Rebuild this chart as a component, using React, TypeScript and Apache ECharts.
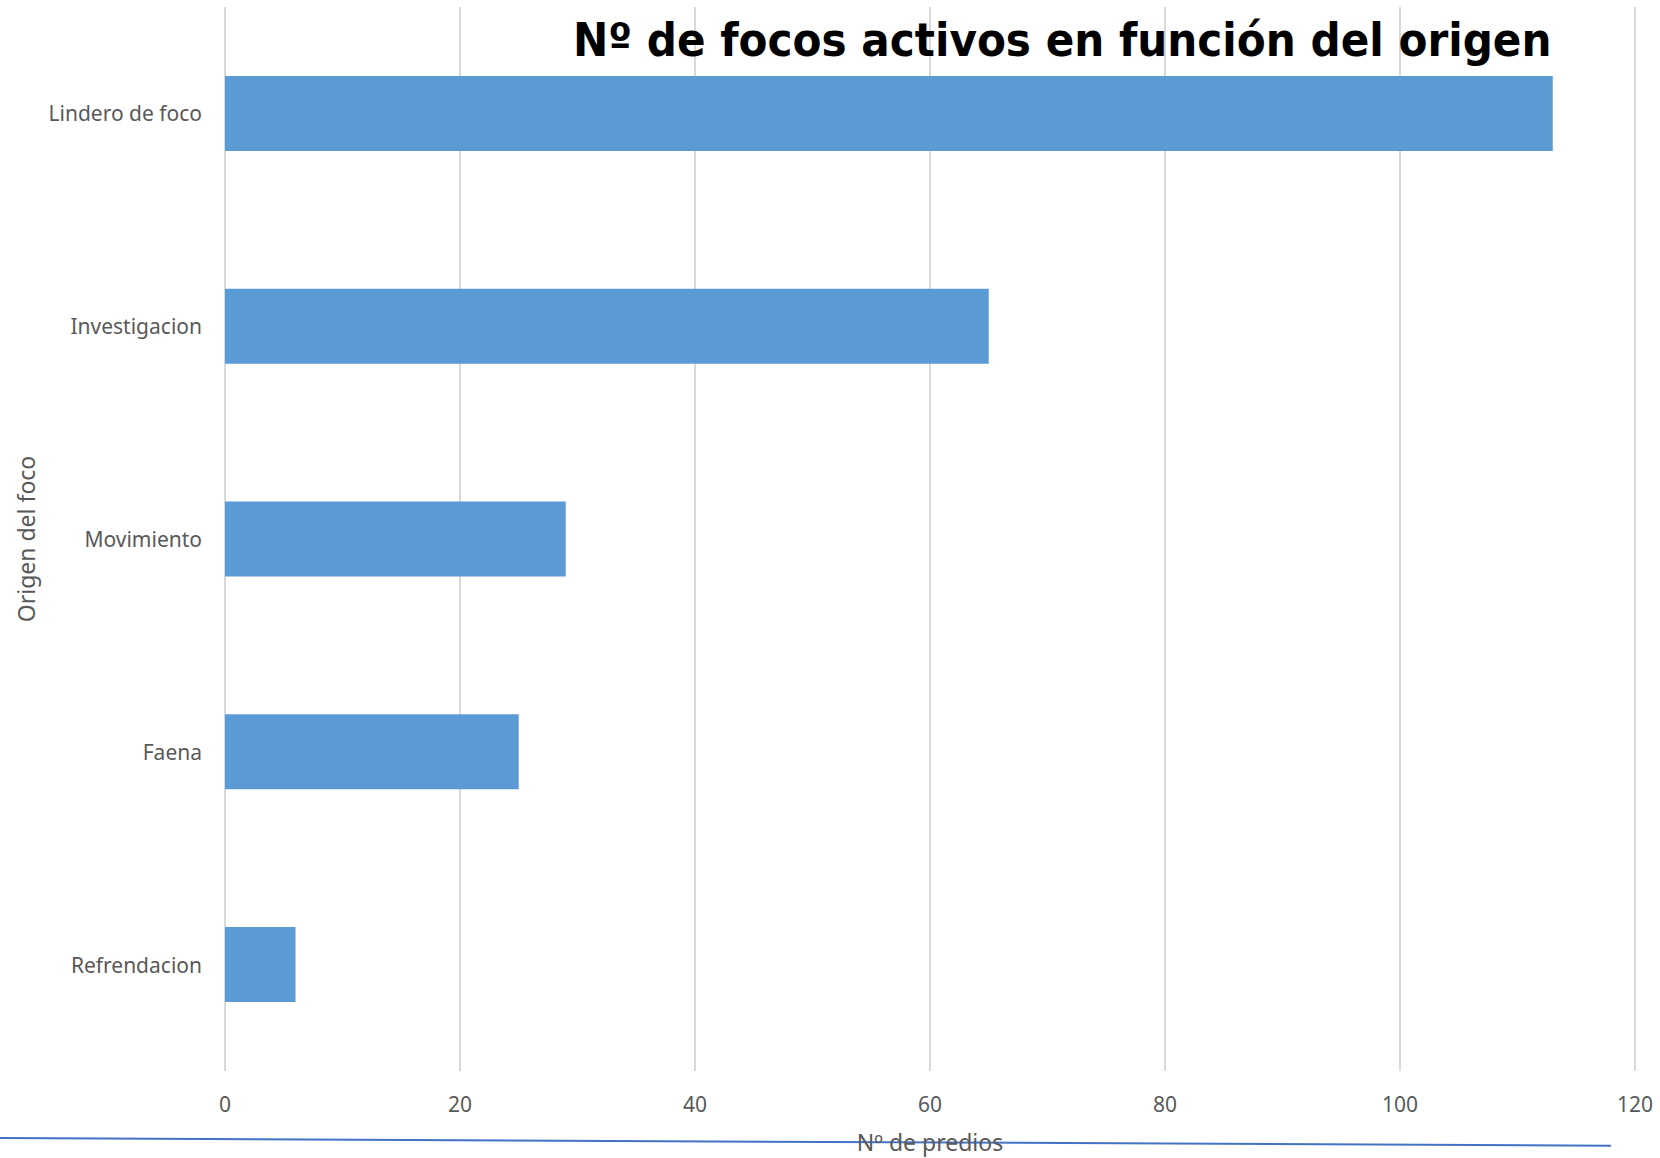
import React, { useEffect, useRef } from "react";
import * as echarts from "echarts";

const categories = ["Lindero de foco", "Investigacion", "Movimiento", "Faena", "Refrendacion"];
const values = [113, 65, 29, 25, 6];
const xTicks = { min: 0, max: 120, interval: 20 };
const titleText = "Nº de focos activos en función del origen";
const xName = "Nº de predios";
const yName = "Origen del foco";

const LABEL_FONT = "'Noto Sans', 'Open Sans', sans-serif";
const TITLE_FONT_SIZE = 46;
const TITLE_FAMILY = "'DejaVu Sans', sans-serif";
const TITLE_WIDTH = 979;

function measure(text: string, font: string): number {
  const c = document.createElement("canvas");
  const ctx = c.getContext("2d");
  if (!ctx) return text.length * 30;
  ctx.font = font;
  return ctx.measureText(text).width;
}

export default function App() {
  const ref = useRef<HTMLDivElement>(null);
  useEffect(() => {
    if (!ref.current) return;
    const chart = echarts.init(ref.current, undefined, { renderer: "svg" });
    const w = measure(titleText, `bold ${TITLE_FONT_SIZE}px ${TITLE_FAMILY}`);
    const sx = w > 0 ? TITLE_WIDTH / w : 0.78;
    chart.setOption({
      animation: false,
      backgroundColor: "#ffffff",
      grid: { left: 225, right: 25, top: 7, bottom: 84, containLabel: false },
      xAxis: {
        type: "value",
        min: xTicks.min,
        max: xTicks.max,
        interval: xTicks.interval,
        name: xName,
        nameLocation: "middle",
        nameGap: 59,
        nameTextStyle: { color: "#595959", fontSize: 23, fontFamily: LABEL_FONT },
        axisLine: { show: false },
        axisTick: { show: false },
        axisLabel: { color: "#595959", fontSize: 21, fontFamily: LABEL_FONT, margin: 22 },
        splitLine: { show: true, lineStyle: { color: "#d9d9d9", width: 2 } },
      },
      yAxis: {
        type: "category",
        data: categories,
        inverse: true,
        name: yName,
        nameLocation: "middle",
        nameGap: 186,
        nameTextStyle: { color: "#595959", fontSize: 23, fontFamily: LABEL_FONT },
        axisLine: { show: false },
        axisTick: { show: false },
        axisLabel: { color: "#595959", fontSize: 21, fontFamily: LABEL_FONT, margin: 23 },
        splitLine: { show: false },
      },
      series: [
        {
          type: "bar",
          data: values,
          barWidth: 75,
          itemStyle: { color: "#5B9BD5" },
          z: 2,
        },
      ],
      graphic: [
        {
          type: "line",
          z: -1,
          shape: { x1: 0, y1: 1138, x2: 1611, y2: 1145.7 },
          style: { stroke: "#4472C4", lineWidth: 2 },
          silent: true,
        },
        {
          type: "text",
          z: 100,
          x: 573,
          y: 40,
          scaleX: sx,
          scaleY: 1,
          style: {
            text: titleText,
            fill: "#000000",
            font: `bold ${TITLE_FONT_SIZE}px ${TITLE_FAMILY}`,
            align: "left",
            verticalAlign: "middle",
          },
        },
      ],
    });
    return () => chart.dispose();
  }, []);
  return (
    <div
      ref={ref}
      style={{ position: "fixed", left: 0, top: 0, width: 1660, height: 1158 }}
    />
  );
}
